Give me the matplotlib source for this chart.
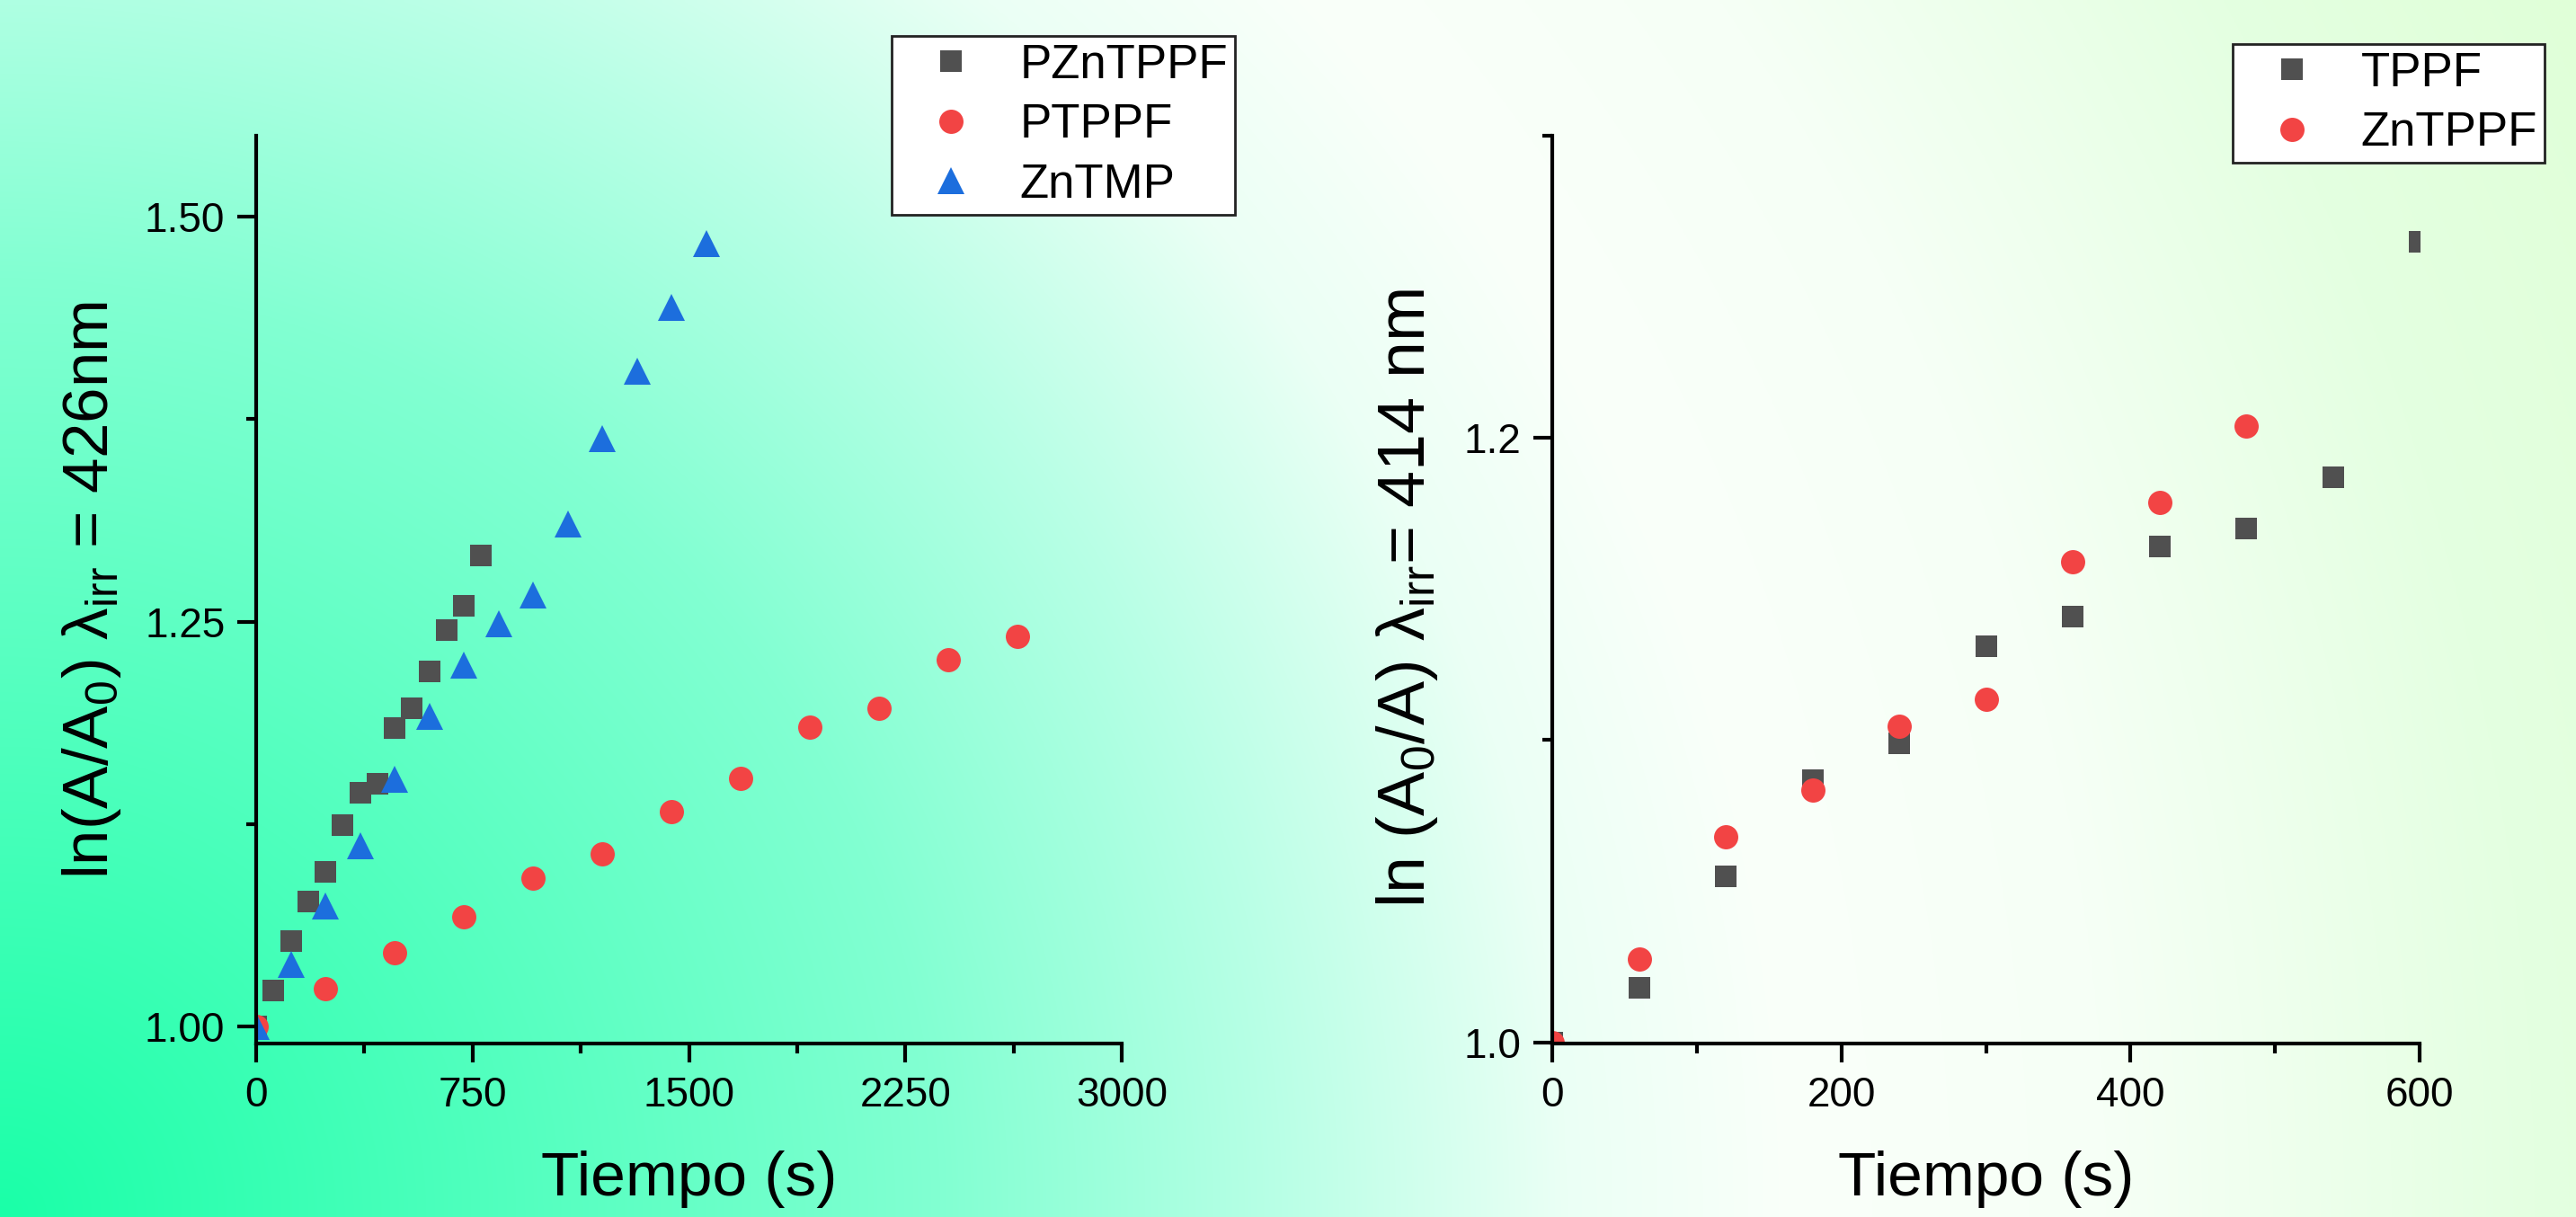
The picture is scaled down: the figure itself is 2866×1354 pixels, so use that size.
import numpy as np
import matplotlib
matplotlib.use('Agg')
import matplotlib.pyplot as plt
from matplotlib.ticker import MultipleLocator, FormatStrFormatter

plt.rcParams['font.family'] = ['Liberation Sans', 'DejaVu Sans']
plt.rcParams['mathtext.fontset'] = 'custom'
plt.rcParams['mathtext.rm'] = 'Liberation Sans'
plt.rcParams['mathtext.it'] = 'Liberation Sans:italic'
plt.rcParams['mathtext.default'] = 'regular'

### irradiation at 426 nm
t_pzntppf = [0, 60, 120, 180, 240, 300, 360, 420, 480, 540, 600, 660, 720, 780]
y_pzntppf = [1.000, 1.0225, 1.0527, 1.0771, 1.0958, 1.1245, 1.1442, 1.1499,
             1.1844, 1.1964, 1.2193, 1.2447, 1.2596, 1.2907]

t_ptppf = [0, 240, 480, 720, 960, 1200, 1440, 1680, 1920, 2160, 2400, 2640]
y_ptppf = [1.000, 1.0235, 1.0455, 1.068, 1.092, 1.1068, 1.1327, 1.1533,
           1.1849, 1.1964, 1.2265, 1.2409]

t_zntmp = [0, 120, 240, 360, 480, 600, 720, 840, 960, 1080, 1200, 1320, 1440, 1560]
y_zntmp = [1.000, 1.0383, 1.0747, 1.1116, 1.1528, 1.1916, 1.2232, 1.2486,
           1.2663, 1.3103, 1.363, 1.4047, 1.444, 1.4837]

### irradiation at 414 nm
t_tppf = [0, 60, 120, 180, 240, 300, 360, 420, 480, 540, 600]
y_tppf = [1.000, 1.018, 1.055, 1.0866, 1.099, 1.131, 1.141, 1.164, 1.170, 1.187, 1.265]

t_zntppf = [0, 60, 120, 180, 240, 300, 360, 420, 480]
y_zntppf = [1.000, 1.0275, 1.068, 1.0835, 1.1046, 1.1136, 1.159, 1.1787, 1.2039]

W, H = 2866, 1354
fig = plt.figure(figsize=(W / 200, H / 200), dpi=200)

### background: radial green -> white -> pale green from the lower left corner
bg = fig.add_axes([0, 0, 1, 1], zorder=-10)
gx, gy = np.meshgrid(np.linspace(0, W, 720), np.linspace(0, H, 340))
r = np.hypot(gx, H - gy) / np.hypot(W, H)
stops = [0.0, 0.33, 0.45, 0.55, 0.63, 0.74, 0.89, 1.0]
red   = [26, 130, 185, 235, 250, 246, 228, 224]
green = [255, 255, 255, 255, 255, 255, 255, 255]
blue  = [168, 210, 230, 245, 250, 246, 225, 216]
img = np.dstack([np.interp(r, stops, c) for c in (red, green, blue)]) / 255.0
bg.imshow(img, extent=[0, W, H, 0], aspect='auto', interpolation='bilinear')
bg.axis('off')

c_sq = '#505050'
c_ci = '#f24444'
c_tri = '#1c6edd'


def style_axes(ax, xmax, xstep, ystep, ylim, yfmt):
    ax.set_facecolor('none')
    ax.set_xlim(0, xmax)
    ax.set_ylim(*ylim)
    ax.xaxis.set_major_locator(MultipleLocator(xstep))
    ax.xaxis.set_minor_locator(MultipleLocator(xstep / 2))
    ax.yaxis.set_major_locator(MultipleLocator(ystep))
    ax.yaxis.set_minor_locator(MultipleLocator(ystep / 2))
    ax.yaxis.set_major_formatter(FormatStrFormatter(yfmt))
    for s in ['top', 'right']:
        ax.spines[s].set_visible(False)
    for s in ['left', 'bottom']:
        ax.spines[s].set_linewidth(1.5)
    ax.tick_params(which='major', length=7.5, width=1.5, labelsize=16.5)
    ax.tick_params(which='minor', length=4, width=1.5)
    ax.tick_params(axis='x', which='major', pad=5.5)
    ax.tick_params(axis='y', which='major', pad=5)


def add_legend(ax, x0, y0):
    leg = ax.legend(loc='upper left', bbox_to_anchor=(x0 / W, 1 - y0 / H),
                    bbox_transform=fig.transFigure, borderaxespad=0, fontsize=19,
                    fancybox=False, edgecolor='#222222', framealpha=1,
                    borderpad=0.15, labelspacing=0.31, handlelength=2.2,
                    handletextpad=0.35, numpoints=1)
    leg.get_frame().set_linewidth(1.0)


### left panel
ax1 = fig.add_axes([285 / W, 1 - 1161 / H, 963 / W, 1010 / H])
ax1.plot(t_pzntppf, y_pzntppf, 's', ms=8.6, color=c_sq, mew=0, label='PZnTPPF')
ax1.plot(t_ptppf, y_ptppf, 'o', ms=9.7, color=c_ci, mew=0, label='PTPPF')
ax1.plot(t_zntmp, y_zntmp, '^', ms=10.5, color=c_tri, mew=0, label='ZnTMP')
style_axes(ax1, 3000, 750, 0.25, (0.9897, 1.55), '%.2f')
ax1.set_xlabel('Tiempo (s)', fontsize=25)
ax1.set_ylabel(r'ln(A/A$_0$) λ$_{irr}$ = 426nm', fontsize=25.5)
ax1.xaxis.set_label_coords(0.5, -0.118)
ax1.yaxis.set_label_coords(-0.154, 0.5)
add_legend(ax1, 992, 40)

### right panel
ax2 = fig.add_axes([1727 / W, 1 - 1161 / H, 965 / W, 1010 / H])
ax2.plot(t_tppf, y_tppf, 's', ms=8.6, color=c_sq, mew=0, label='TPPF')
ax2.plot(t_zntppf, y_zntppf, 'o', ms=9.7, color=c_ci, mew=0, label='ZnTPPF')
style_axes(ax2, 600, 200, 0.2, (0.9996, 1.30), '%.1f')
ax2.set_xlabel('Tiempo (s)', fontsize=25)
ax2.set_ylabel(r'ln (A$_0$/A) λ$_{irr}$= 414 nm', fontsize=26.5)
ax2.xaxis.set_label_coords(0.5, -0.118)
ax2.yaxis.set_label_coords(-0.1295, 0.49)
add_legend(ax2, 2484, 49)

fig.savefig('out.png', dpi=200)
